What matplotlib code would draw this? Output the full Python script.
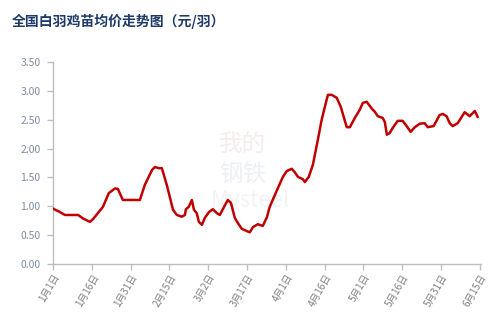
import matplotlib.pyplot as plt

plt.rcParams['font.family'] = ['Noto Sans CJK SC', 'DejaVu Sans']

# 日期（从1月1日起的天数）和价格（元/羽）
days = [0, 2.7, 4.6, 9.7, 11.6, 14.3, 15.5, 19.3, 21.6, 24, 25.1, 27, 33.6, 35.5,
        38.3, 39.4, 41, 42.1, 44, 46.4, 47.9, 49.8, 51, 51.4, 52.5, 53.7, 54.5,
        55.6, 56.4, 57.6, 58.7, 60.3, 61.8, 63.4, 64.5, 66.5, 67.6, 68.8, 70.3,
        71.5, 73, 75, 76.1, 77.3, 79.2, 81.1, 82.7, 83.8, 86.6, 88.9, 90.4, 92.3,
        93.5, 94.7, 96.6, 97.4, 98.9, 100.5, 102.4, 103.9, 105.1, 106.3, 107.8,
        109.7, 111.3, 112.4, 113.6, 114.8, 116.7, 118.6, 119.8, 121.3, 123.3,
        124.4, 125.6, 127.5, 128.3, 129.1, 130.2, 131.4, 133.3, 135.2, 136.4,
        138.3, 139.9, 141.8, 143.7, 144.9, 147.2, 149.5, 150.7, 152.2, 153.4,
        154.6, 156.5, 159.2, 161.1, 163.1, 164.2]
prices = [0.96, 0.90, 0.85, 0.85, 0.79, 0.73, 0.78, 0.99, 1.23, 1.31, 1.30, 1.11, 1.11, 1.37,
          1.63, 1.68, 1.66, 1.66, 1.37, 0.94, 0.85, 0.82, 0.85, 0.95, 0.99, 1.11, 0.94,
          0.88, 0.73, 0.68, 0.80, 0.90, 0.95, 0.88, 0.85, 1.02, 1.11, 1.06, 0.80,
          0.71, 0.61, 0.57, 0.55, 0.64, 0.69, 0.66, 0.81, 0.99, 1.28, 1.51, 1.61, 1.65,
          1.59, 1.51, 1.47, 1.42, 1.51, 1.72, 2.15, 2.50, 2.72, 2.93, 2.93,
          2.88, 2.72, 2.55, 2.37, 2.37, 2.53, 2.67, 2.79, 2.81, 2.69,
          2.64, 2.56, 2.53, 2.46, 2.24, 2.27, 2.36, 2.48, 2.48, 2.41,
          2.29, 2.37, 2.43, 2.44, 2.37, 2.39, 2.58, 2.60, 2.56, 2.44,
          2.39, 2.44, 2.63, 2.56, 2.65, 2.55]

tick_days = [0, 15, 30, 45, 60, 75, 90, 105, 120, 135, 150, 165]
tick_labels = ['1月1日', '1月16日', '1月31日', '2月15日', '3月2日', '3月17日',
               '4月1日', '4月16日', '5月1日', '5月16日', '5月31日', '6月15日']
y_ticks = [0, 0.5, 1.0, 1.5, 2.0, 2.5, 3.0, 3.5]

fig = plt.figure(figsize=(5, 3.26), dpi=100)
ax = fig.add_axes([0.106, 0.19, 0.856, 0.62])

# 水印（放在曲线下面）
ax.text(0.485, 0.555, '我的', transform=fig.transFigure, fontsize=17, color='#f7ecec',
        ha='center', va='center', zorder=0)
ax.text(0.485, 0.465, '钢铁', transform=fig.transFigure, fontsize=17, color='#eef0f6',
        ha='center', va='center', zorder=0)
ax.text(0.50, 0.385, 'Mysteel', transform=fig.transFigure, fontsize=16, color='#f4f4f4',
        ha='center', va='center', zorder=0)

ax.plot(days, prices, color='#C00000', linewidth=1.8, solid_joinstyle='round', zorder=3)

ax.set_xlim(0, 165.5)
ax.set_ylim(0, 3.5)
ax.set_yticks(y_ticks)
ax.set_yticklabels([f'{v:.2f}' for v in y_ticks])
ax.set_xticks(tick_days)
ax.set_xticklabels(tick_labels, rotation=60, ha='right', rotation_mode='anchor')

for s in ['top', 'right']:
    ax.spines[s].set_visible(False)
for s in ['left', 'bottom']:
    ax.spines[s].set_color('#BFBFBF')
    ax.spines[s].set_linewidth(1)
ax.tick_params(axis='both', colors='#BFBFBF', length=4, width=1)
ax.tick_params(axis='y', labelcolor='#7F8C9F', labelsize=7.5, pad=5)
ax.tick_params(axis='x', labelcolor='#808080', labelsize=7, pad=2)
ax.patch.set_alpha(0)

fig.text(0.024, 0.935, '全国白羽鸡苗均价走势图（元/羽）', fontsize=10, fontweight='bold',
         color='#1F3A68', ha='left', va='center')

fig.savefig('out.png', dpi=100)
